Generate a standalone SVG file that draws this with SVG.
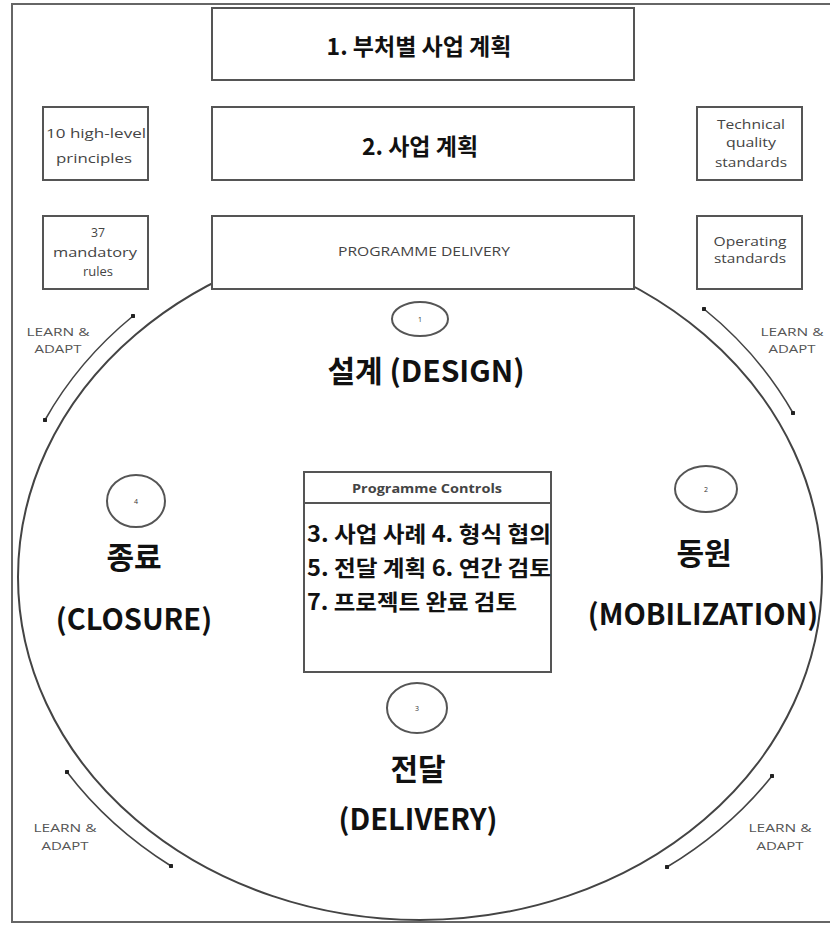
<svg xmlns="http://www.w3.org/2000/svg" width="830" height="925" viewBox="0 0 830 925">
<defs>
<style>
.frame{fill:none;stroke:#666;stroke-width:2}
.box{fill:#fff;stroke:#555;stroke-width:2}
.ring{fill:#fff;stroke:#555;stroke-width:2}
.big{fill:none;stroke:#444;stroke-width:2}
.la{fill:none;stroke:#444;stroke-width:1.6;marker-start:url(#dot);marker-end:url(#dot)}
.kr{font-family:"Noto Sans CJK KR","Noto Sans",sans-serif;font-weight:bold;fill:#111;text-anchor:middle}
.kl{font-family:"Noto Sans CJK KR","Noto Sans",sans-serif;font-weight:bold;fill:#111;text-anchor:start;font-size:22px}
.sm{font-family:"Open Sans","Noto Sans",sans-serif;fill:#444;text-anchor:middle;font-size:12px}
.lbl{font-family:"Open Sans","Noto Sans",sans-serif;fill:#555;text-anchor:middle;font-size:11.5px}
.num{font-family:"Open Sans",sans-serif;fill:#333;text-anchor:middle;font-size:7px}
</style>
<marker id="dot" viewBox="0 0 6 6" refX="3" refY="3" markerWidth="3" markerHeight="3" markerUnits="strokeWidth"><circle cx="3" cy="3" r="3" fill="#222"/></marker>
</defs>
<path class="frame" d="M830 4H12V922H830"/>
<g id="cycle"><ellipse class="big" cx="420" cy="577" rx="402" ry="343"/></g>
<g id="connectors">
<path class="la" d="M45 420A420 360 0 0 1 133 316"/>
<path class="la" d="M704 309A420 360 0 0 1 793 413"/>
<path class="la" d="M772 776A420 360 0 0 1 667 867"/>
<path class="la" d="M171 866A420 360 0 0 1 67 772"/>
</g>
<g id="n-dept"><rect class="box" x="212" y="8" width="422" height="72"/><text class="kr" x="419" y="55" font-size="23">1. 부처별 사업 계획</text></g>
<g id="n-plan"><rect class="box" x="212" y="107" width="422" height="73"/><text class="kr" x="420" y="155" font-size="23">2. 사업 계획</text></g>
<g id="n-delivery"><rect class="box" x="212" y="216" width="422" height="73"/><text class="sm" x="424" y="256" font-size="12px" textLength="172" lengthAdjust="spacingAndGlyphs">PROGRAMME DELIVERY</text></g>
<g id="n-principles"><rect class="box" x="43" y="107" width="105" height="73"/><text class="sm" x="96" y="138" textLength="100" lengthAdjust="spacingAndGlyphs">10 high-level</text><text class="sm" x="94" y="163" textLength="76" lengthAdjust="spacingAndGlyphs">principles</text></g>
<g id="n-rules"><rect class="box" x="43" y="216" width="105" height="73"/><text class="sm" x="98" y="237" textLength="14" lengthAdjust="spacingAndGlyphs">37</text><text class="sm" x="95" y="257" textLength="84" lengthAdjust="spacingAndGlyphs">mandatory</text><text class="sm" x="98" y="276" textLength="30" lengthAdjust="spacingAndGlyphs">rules</text></g>
<g id="n-tech"><rect class="box" x="697" y="107" width="105" height="73"/><text class="sm" x="751" y="129" textLength="68" lengthAdjust="spacingAndGlyphs">Technical</text><text class="sm" x="751" y="147" textLength="50" lengthAdjust="spacingAndGlyphs">quality</text><text class="sm" x="751" y="167" textLength="72" lengthAdjust="spacingAndGlyphs">standards</text></g>
<g id="n-oper"><rect class="box" x="697" y="216" width="105" height="73"/><text class="sm" x="750" y="246" textLength="73" lengthAdjust="spacingAndGlyphs">Operating</text><text class="sm" x="750" y="263" textLength="72" lengthAdjust="spacingAndGlyphs">standards</text></g>
<g id="labels">
<text class="lbl" x="58" y="336" textLength="63" lengthAdjust="spacingAndGlyphs">LEARN &amp;</text><text class="lbl" x="58" y="353" textLength="47" lengthAdjust="spacingAndGlyphs">ADAPT</text>
<text class="lbl" x="792" y="336" textLength="63" lengthAdjust="spacingAndGlyphs">LEARN &amp;</text><text class="lbl" x="792" y="353" textLength="47" lengthAdjust="spacingAndGlyphs">ADAPT</text>
<text class="lbl" x="65" y="832" textLength="63" lengthAdjust="spacingAndGlyphs">LEARN &amp;</text><text class="lbl" x="65" y="850" textLength="47" lengthAdjust="spacingAndGlyphs">ADAPT</text>
<text class="lbl" x="780" y="832" textLength="63" lengthAdjust="spacingAndGlyphs">LEARN &amp;</text><text class="lbl" x="780" y="850" textLength="47" lengthAdjust="spacingAndGlyphs">ADAPT</text>
</g>
<g id="n-design"><ellipse class="ring" cx="420" cy="319" rx="28" ry="17"/><text class="num" x="420" y="322">1</text><text class="kr" x="426" y="382" font-size="30">설계 (DESIGN)</text></g>
<g id="n-mobilization"><ellipse class="ring" cx="706" cy="489" rx="31" ry="23"/><text class="num" x="706" y="492">2</text><text class="kr" x="704" y="564" font-size="30">동원</text><text class="kr" x="703" y="625" font-size="29">(MOBILIZATION)</text></g>
<g id="n-delivery-phase"><ellipse class="ring" cx="417" cy="708" rx="30" ry="25"/><text class="num" x="417" y="711">3</text><text class="kr" x="418" y="780" font-size="30">전달</text><text class="kr" x="418" y="830" font-size="29">(DELIVERY)</text></g>
<g id="n-closure"><ellipse class="ring" cx="136" cy="501" rx="29" ry="26"/><text class="num" x="136" y="504">4</text><text class="kr" x="134" y="568" font-size="30">종료</text><text class="kr" x="134" y="630" font-size="29">(CLOSURE)</text></g>
<g id="n-controls"><rect class="box" x="304" y="472" width="247" height="200"/><line x1="304" y1="503" x2="551" y2="503" stroke="#555" stroke-width="2"/>
<text class="sm" x="427" y="493" font-weight="bold" fill="#333" font-size="12px" textLength="150" lengthAdjust="spacingAndGlyphs">Programme Controls</text>
<text class="kl" x="307" y="542" textLength="244" lengthAdjust="spacingAndGlyphs">3. 사업 사례 4. 형식 협의</text>
<text class="kl" x="307" y="576" textLength="244" lengthAdjust="spacingAndGlyphs">5. 전달 계획 6. 연간 검토</text>
<text class="kl" x="307" y="610" textLength="210" lengthAdjust="spacingAndGlyphs">7. 프로젝트 완료 검토</text>
</g>
</svg>
